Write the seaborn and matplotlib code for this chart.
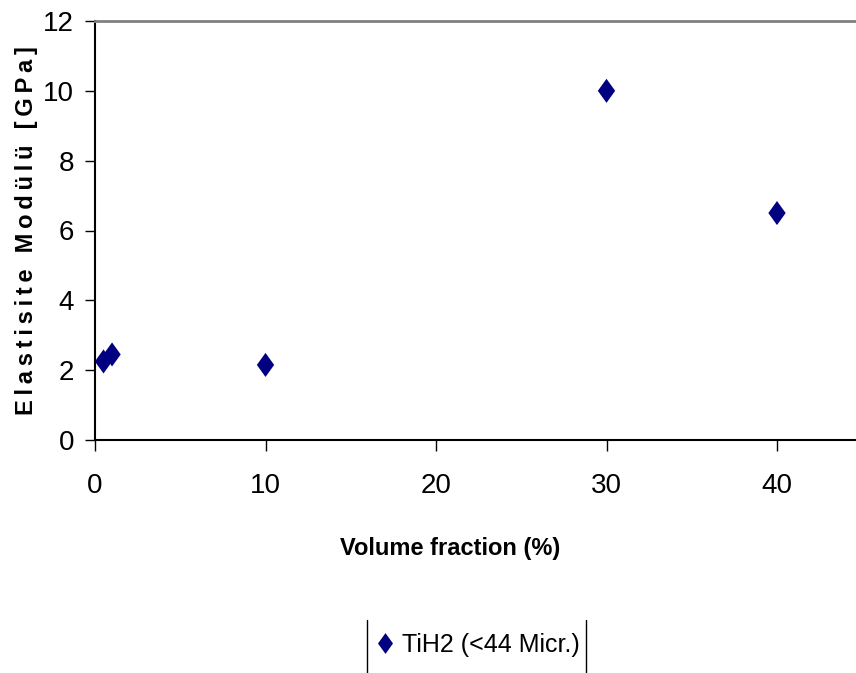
import matplotlib
matplotlib.use("Agg")
import matplotlib.pyplot as plt
import seaborn as sns
import pandas as pd
from matplotlib.lines import Line2D

# data
volume_fraction = [0.5, 1.0, 10.0, 30.0, 40.0]
elastic_modulus = [2.25, 2.45, 2.15, 10.0, 6.5]
series_name = "TiH2 (<44 Micr.)"
x_ticks = [0, 10, 20, 30, 40]
y_ticks = [0, 2, 4, 6, 8, 10, 12]

sns.set_theme(style="white")
narrow = ["Liberation Sans Narrow", "Liberation Sans", "DejaVu Sans"]
regular = ["Liberation Sans", "DejaVu Sans"]
plt.rcParams["font.family"] = narrow
plt.rcParams["text.color"] = "black"

df = pd.DataFrame({"x": volume_fraction, "y": elastic_modulus, "s": series_name})

fig = plt.figure(figsize=(8.56, 6.73), dpi=100)
ax = fig.add_axes([95/856, 1-440/673, 1-95/856, (440-21)/673])

diamond = [(-0.36, 0), (0, 0.5), (0.36, 0), (0, -0.5), (-0.36, 0)]
sns.scatterplot(data=df, x="x", y="y", marker=diamond, s=300, color="#000080",
                edgecolor="none", linewidth=0, ax=ax, legend=False, zorder=3)

ax.set_xlim(0, (856-95)/17.05)
ax.set_ylim(0, 12)
ax.set_xticks(x_ticks)
ax.set_yticks(y_ticks)
ax.set_xticklabels([str(v) for v in x_ticks])
ax.set_yticklabels([str(v) for v in y_ticks])
ax.tick_params(axis="x", direction="out", length=8, width=1, pad=16, labelsize=20,
               bottom=True, colors="black")
ax.tick_params(axis="y", direction="out", length=7, width=1, pad=8, labelsize=20,
               left=True, colors="black")

for side in ["left", "bottom"]:
    ax.spines[side].set_color("black")
    ax.spines[side].set_linewidth(1.5)
ax.spines["right"].set_visible(False)
ax.spines["top"].set_color("#808080")
ax.spines["top"].set_linewidth(2)
ax.grid(False)

ax.set_ylabel("\u2009".join("Elastisite Modülü [GPa]"), fontsize=17, fontweight="bold",
              family=regular, color="black")
ax.yaxis.set_label_coords((27-95)/761, 0.5)
ax.yaxis.label.set_va("center")
ax.set_xlabel("Volume fraction (%)", fontsize=17, fontweight="bold",
              family=regular, color="black")
ax.xaxis.set_label_coords((450-95)/761, (440-549)/420)
ax.xaxis.label.set_va("center")

handle = Line2D([], [], linestyle="none", marker=diamond, markersize=15,
                markerfacecolor="#000080", markeredgecolor="none")
leg = fig.legend([handle], [series_name], loc="center", bbox_to_anchor=(478/856, 1-645/673),
                 frameon=False, fontsize=18, handlelength=0.7, handletextpad=0.3,
                 borderaxespad=0, labelcolor="black")

for xp in (367, 586):
    fig.add_artist(Line2D([xp/856, xp/856], [0, 1-620/673], color="black", lw=1,
                          transform=fig.transFigure))

fig.savefig("out.png", dpi=100)
